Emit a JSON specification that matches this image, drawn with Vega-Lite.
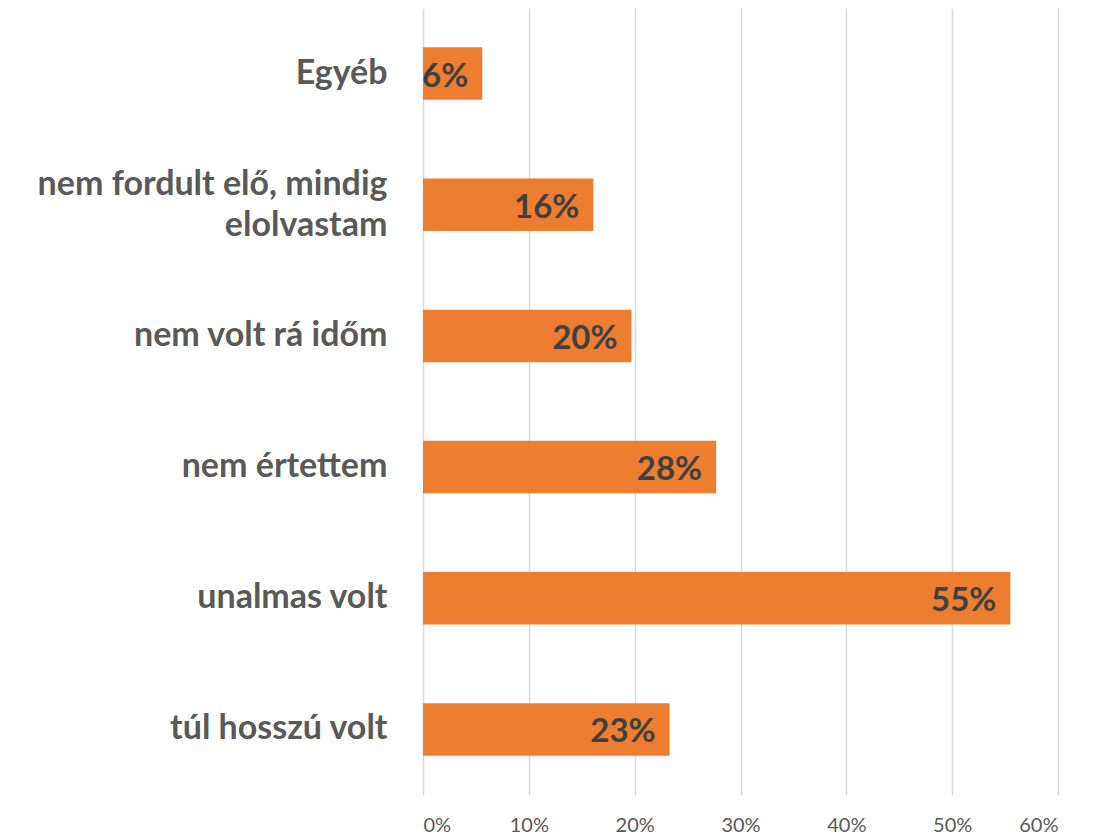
{
  "$schema": "https://vega.github.io/schema/vega-lite/v6.json",
  "width": 635,
  "height": 787,
  "padding": {"left": 37, "top": 8, "right": 20, "bottom": 5},
  "background": "white",
  "config": {"view": {"stroke": null}, "font": "Lato"},
  "data": {"values": [
    {"cat": "Egyéb", "v": 0.056, "lab": "6%"},
    {"cat": "nem fordult elő, mindig elolvastam", "v": 0.161, "lab": "16%"},
    {"cat": "nem volt rá időm", "v": 0.197, "lab": "20%"},
    {"cat": "nem értettem", "v": 0.277, "lab": "28%"},
    {"cat": "unalmas volt", "v": 0.555, "lab": "55%"},
    {"cat": "túl hosszú volt", "v": 0.233, "lab": "23%"}
  ]},
  "encoding": {
    "y": {"field": "cat", "type": "nominal", "sort": null,
      "scale": {"paddingInner": 0.6, "paddingOuter": 0.3},
      "axis": {"title": null, "domain": false, "ticks": false, "labelFontSize": 34, "labelFontWeight": "bold", "labelColor": "#595959", "labelPadding": 36, "labelLimit": 500, "labelLineHeight": 41,
        "labelOffset": {"condition": {"test": "datum.value == 'nem fordult elő, mindig elolvastam'", "value": -20}, "value": 0},
        "labelExpr": "datum.value == 'nem fordult elő, mindig elolvastam' ? ['nem fordult elő, mindig', 'elolvastam'] : datum.value"}}
  },
  "layer": [
    {"mark": {"type": "bar", "color": "#ED7D31"},
     "encoding": {"x": {"field": "v", "type": "quantitative", "scale": {"domain": [0, 0.6], "nice": false},
       "axis": {"title": null, "format": ".0%", "values": [0, 0.1, 0.2, 0.3, 0.4, 0.5, 0.6], "domain": false, "ticks": false, "grid": true, "gridColor": "#D9D9D9", "gridWidth": 1.5, "labelFontSize": 20, "labelColor": "#595959", "labelPadding": 20}}}},
    {"mark": {"type": "text", "align": "right", "baseline": "middle", "dx": -14, "dy": 3, "fontSize": 33, "fontWeight": "bold", "color": "#404040"},
     "encoding": {"x": {"field": "v", "type": "quantitative"}, "text": {"field": "lab"}}}
  ]
}
